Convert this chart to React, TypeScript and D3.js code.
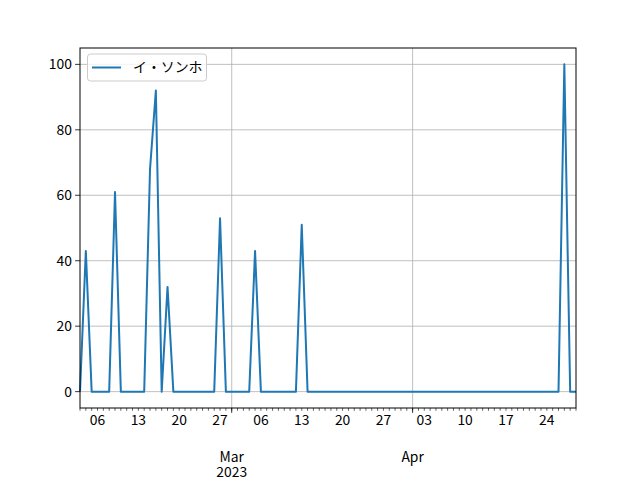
import React from "react";
import * as d3 from "d3";

const seriesName = "イ・ソンホ";
const startDate = "2023-02-03";
const values = [
  0, 43, 0, 0, 0, 0, 61, 0, 0, 0, 0, 0, 68, 92, 0, 32, 0, 0, 0, 0, 0, 0, 0, 0,
  53, 0, 0, 0, 0, 0, 43, 0, 0, 0, 0, 0, 0, 0, 51, 0, 0, 0, 0, 0, 0, 0, 0, 0,
  0, 0, 0, 0, 0, 0, 0, 0, 0, 0, 0, 0, 0, 0, 0, 0, 0, 0, 0, 0, 0, 0, 0, 0,
  0, 0, 0, 0, 0, 0, 0, 0, 0, 0, 0, 100, 0, 0,
];
const yTicks = [0, 20, 40, 60, 80, 100];

const W = 640;
const H = 480;
const M = { left: 80, right: 576, top: 48, bottom: 408 };
const FONT = "'Noto Sans CJK JP', 'DejaVu Sans', sans-serif";
const FS = 13.9;

export default function App() {
  const parse = d3.timeParse("%Y-%m-%d");
  const start = parse(startDate) as Date;
  const data = values.map((v, i) => ({ date: d3.timeDay.offset(start, i), value: v }));
  const end = data[data.length - 1].date;

  const x = d3.scaleTime().domain([start, end]).range([M.left, M.right]);
  const y = d3.scaleLinear().domain([-5, 105]).range([M.bottom, M.top]);

  const line = d3
    .line<{ date: Date; value: number }>()
    .x((d) => x(d.date))
    .y((d) => y(d.value));

  const days = d3.timeDay.range(start, d3.timeDay.offset(end, 1));
  const mondays = d3.timeMonday.range(start, d3.timeDay.offset(end, 1));
  const months = d3.timeMonth.range(start, d3.timeDay.offset(end, 1));
  const fmtDay = d3.timeFormat("%d");
  const fmtMon = d3.timeFormat("%b");

  return (
    <svg
      width={W}
      height={H}
      style={{ position: "absolute", left: 0, top: 0, display: "block" }}
      fontFamily={FONT}
    >
      <rect x={0} y={0} width={W} height={H} fill="white" />
      {/* grid */}
      {yTicks.map((t) => (
        <line key={"gy" + t} x1={M.left} x2={M.right} y1={y(t)} y2={y(t)} stroke="#b0b0b0" strokeWidth={0.8} />
      ))}
      {months.map((m, i) => (
        <line key={"gx" + i} x1={x(m)} x2={x(m)} y1={M.top} y2={M.bottom} stroke="#b0b0b0" strokeWidth={0.8} />
      ))}
      {/* line */}
      <path d={line(data) || ""} fill="none" stroke="#1f77b4" strokeWidth={2} strokeLinejoin="round" />
      {/* spines */}
      <rect x={M.left} y={M.top} width={M.right - M.left} height={M.bottom - M.top} fill="none" stroke="black" strokeWidth={1} />
      {/* y ticks */}
      {yTicks.map((t) => (
        <g key={"yt" + t}>
          <line x1={M.left - 4.9} x2={M.left} y1={y(t)} y2={y(t)} stroke="black" strokeWidth={0.8} />
          <text x={M.left - 8} y={y(t)} dy="0.35em" textAnchor="end" fontSize={FS} fill="black">
            {t}
          </text>
        </g>
      ))}
      {/* x minor ticks */}
      {days.map((d, i) => (
        <line key={"xd" + i} x1={x(d)} x2={x(d)} y1={M.bottom} y2={M.bottom + 2.8} stroke="black" strokeWidth={0.6} />
      ))}
      {mondays.map((d, i) => (
        <text key={"xl" + i} x={x(d)} y={M.bottom + 17} textAnchor="middle" fontSize={FS} fill="black">
          {fmtDay(d)}
        </text>
      ))}
      {months.map((m, i) => (
        <g key={"xm" + i}>
          <line x1={x(m)} x2={x(m)} y1={M.bottom} y2={M.bottom + 4.9} stroke="black" strokeWidth={0.8} />
          <text x={x(m)} y={M.bottom + 53.5} textAnchor="middle" fontSize={FS} fill="black">
            <tspan x={x(m)}>{fmtMon(m)}</tspan>
            {i === 0 && (
              <tspan x={x(m)} dy={15.5}>
                {d3.timeFormat("%Y")(m)}
              </tspan>
            )}
          </text>
        </g>
      ))}
      {/* legend */}
      <g>
        <rect x={87.5} y={54} width={119} height={27} rx={3} fill="white" fillOpacity={0.8} stroke="#cccccc" strokeWidth={1} />
        <line x1={92} x2={121} y1={67.5} y2={67.5} stroke="#1f77b4" strokeWidth={2} />
        <text x={133} y={67.5} dy="0.35em" fontSize={FS} fill="black">
          {seriesName}
        </text>
      </g>
    </svg>
  );
}
